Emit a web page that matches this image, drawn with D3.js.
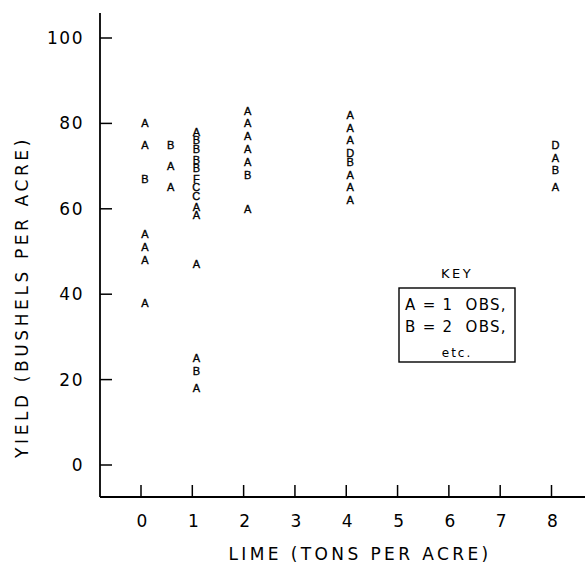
<!DOCTYPE html>
<html>
<head>
<meta charset="utf-8">
<script src="https://cdn.jsdelivr.net/npm/d3@7"></script>
<style>
  body { margin: 0; background: #fff; }
  svg { display: block; }
  .lbl { font-family: "DejaVu Sans", "Liberation Sans", sans-serif; font-weight: normal; fill: #000; }
  .pt { font-family: "Liberation Sans", Arial, sans-serif; font-size: 11px; fill: #000; stroke: #000; stroke-width: 0.35px; text-anchor: middle; }
</style>
</head>
<body>
<script>
// lime rate (tons per acre), plotted letter and yield (bushels per acre)
const limeLevels = [0, 0, 0, 0, 0, 0, 0,
    0.5, 0.5, 0.5,
    1, 1, 1, 1, 1, 1, 1, 1, 1, 1, 1, 1, 1, 1,
    2, 2, 2, 2, 2, 2, 2,
    4, 4, 4, 4, 4, 4, 4, 4,
    8, 8, 8, 8];
const symbols = ['A', 'A', 'B', 'A', 'A', 'A', 'A',
    'B', 'A', 'A',
    'A', 'B', 'B', 'B', 'B', 'F', 'C', 'C', 'A', 'A', 'A', 'A', 'B', 'A',
    'A', 'A', 'A', 'A', 'A', 'B', 'A',
    'A', 'A', 'A', 'D', 'B', 'A', 'A', 'A',
    'D', 'A', 'B', 'A'];
const yields = [80, 75, 67, 54, 51, 48, 38,
    75, 70, 65,
    78, 76, 74, 71.5, 69.5, 67, 65, 63, 60.5, 58.5, 47, 25, 22, 18,
    83, 80, 77, 74, 71, 68, 60,
    82, 79, 76, 73, 71, 68, 65, 62,
    75, 72, 69, 65];

const xTicks = [0, 1, 2, 3, 4, 5, 6, 7, 8];
const yTicks = [0, 20, 40, 60, 80, 100];
const keyLines = ['A = 1  OBS,', 'B = 2  OBS,', 'etc.'];

const W = 585, H = 587;

const svg = d3.select("body").append("svg")
    .attr("width", W)
    .attr("height", H);

const x = d3.scaleLinear().domain([0, 8]).range([141, 551.5]);
const y = d3.scaleLinear().domain([0, 100]).range([465, 38]);

const axisX = 100, axisY = 497;

// axis lines
svg.append("line")
    .attr("x1", axisX).attr("y1", 13)
    .attr("x2", axisX).attr("y2", axisY)
    .attr("stroke", "#000").attr("stroke-width", 1.8);
svg.append("line")
    .attr("x1", axisX).attr("y1", axisY)
    .attr("x2", W).attr("y2", axisY)
    .attr("stroke", "#000").attr("stroke-width", 1.8);

// y ticks point inward
svg.selectAll(".ytick")
    .data(yTicks)
    .enter()
    .append("line")
    .attr("class", "ytick")
    .attr("x1", axisX).attr("x2", axisX + 12)
    .attr("y1", d => y(d)).attr("y2", d => y(d))
    .attr("stroke", "#000").attr("stroke-width", 1.5);
svg.selectAll(".ylab")
    .data(yTicks)
    .enter()
    .append("text")
    .attr("class", "lbl")
    .attr("x", 84)
    .attr("y", d => y(d) + 6)
    .attr("text-anchor", "end")
    .style("font-size", "17px")
    .style("letter-spacing", "1.5px")
    .text(d => d);

// x ticks point up
svg.selectAll(".xtick")
    .data(xTicks)
    .enter()
    .append("line")
    .attr("class", "xtick")
    .attr("x1", d => x(d)).attr("x2", d => x(d))
    .attr("y1", axisY).attr("y2", axisY - 12)
    .attr("stroke", "#000").attr("stroke-width", 1.5);
svg.selectAll(".xlab")
    .data(xTicks)
    .enter()
    .append("text")
    .attr("class", "lbl")
    .attr("x", d => x(d) + 1)
    .attr("y", 527)
    .attr("text-anchor", "middle")
    .style("font-size", "17px")
    .text(d => d);

// axis titles
svg.append("text")
    .attr("class", "lbl")
    .attr("transform", "translate(28,297) rotate(-90)")
    .attr("text-anchor", "middle")
    .style("font-size", "17px")
    .style("letter-spacing", "3.6px")
    .text("YIELD (BUSHELS PER ACRE)");
svg.append("text")
    .attr("class", "lbl")
    .attr("x", 360)
    .attr("y", 560)
    .attr("text-anchor", "middle")
    .style("font-size", "17px")
    .style("letter-spacing", "3.4px")
    .text("LIME (TONS PER ACRE)");

// plotted letters
const pts = d3.range(yields.length).map(i => ({ lime: limeLevels[i], sym: symbols[i], val: yields[i] }));
svg.selectAll(".pt")
    .data(pts)
    .enter()
    .append("text")
    .attr("class", "pt")
    .attr("x", d => x(d.lime) + 4)
    .attr("y", d => y(d.val) + 4)
    .text(d => d.sym);

// key
svg.append("text")
    .attr("class", "lbl")
    .attr("x", 457)
    .attr("y", 278)
    .attr("text-anchor", "middle")
    .style("font-size", "13px")
    .style("letter-spacing", "2.5px")
    .text("KEY");
svg.append("rect")
    .attr("x", 399).attr("y", 288)
    .attr("width", 116).attr("height", 74)
    .attr("fill", "none")
    .attr("stroke", "#000").attr("stroke-width", 1.4);
svg.selectAll(".key")
    .data(keyLines)
    .enter()
    .append("text")
    .attr("class", "lbl")
    .attr("x", (d, i) => i < 2 ? 405 : 457)
    .attr("y", (d, i) => [310, 332, 357][i])
    .attr("text-anchor", (d, i) => i < 2 ? "start" : "middle")
    .style("font-size", (d, i) => i < 2 ? "15px" : "12px")
    .style("letter-spacing", (d, i) => i < 2 ? "1.3px" : "2px")
    .style("white-space", "pre")
    .text(d => d);
</script>
</body>
</html>
